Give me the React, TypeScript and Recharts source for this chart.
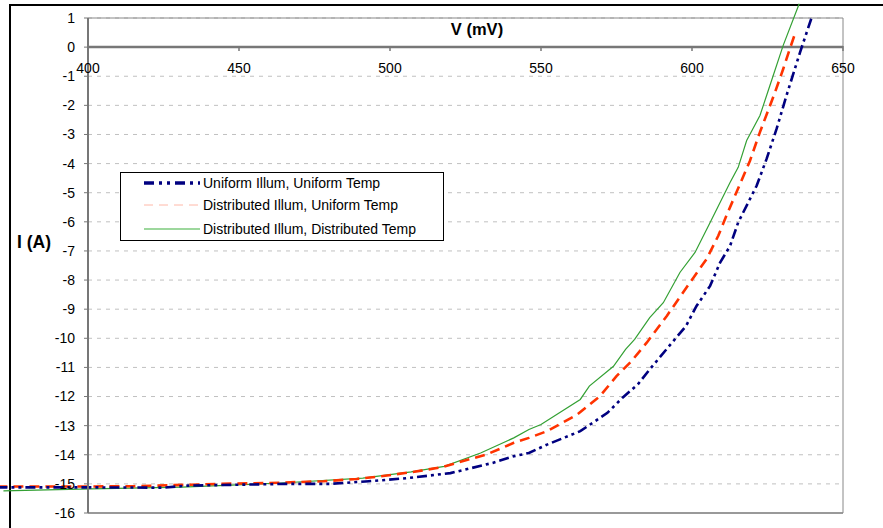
import { LineChart, Line, XAxis, YAxis, CartesianGrid, ReferenceLine, Legend } from "recharts";

// V (mV) / I (A), one pair of arrays per series
const uniformV = [370, 400, 425, 433, 466, 480, 493, 506, 520, 534, 541, 546, 552, 563, 572, 577, 582, 586, 592, 598, 601.5, 606, 609.3, 612.6, 615.3, 621.4, 624.7, 628, 631.3, 635.8, 639.6];
const uniformI = [-15.12, -15.12, -15.13, -15.06, -15.0, -15.0, -14.91, -14.8, -14.63, -14.28, -14.05, -13.94, -13.65, -13.19, -12.56, -12.04, -11.59, -11.07, -10.32, -9.58, -8.89, -8.2, -7.4, -6.83, -6.02, -4.76, -3.84, -2.81, -1.66, -0.17, 1.01];

const distIllumV = [370, 400, 415, 448, 460, 478, 489, 497, 507, 517, 522, 532, 541, 546, 552, 562, 569.5, 575, 580, 585, 591.6, 599.3, 604.8, 608.7, 611.4, 619.2, 622.5, 627.5, 630.2, 632.4, 634.3];
const distIllumI = [-15.09, -15.09, -15.08, -14.99, -14.97, -14.91, -14.83, -14.74, -14.6, -14.43, -14.28, -13.99, -13.59, -13.42, -13.19, -12.62, -11.99, -11.3, -10.78, -10.15, -9.24, -8.09, -7.28, -6.48, -5.79, -3.9, -2.92, -1.55, -0.75, -0.06, 0.52];

const distTempV = [372, 401, 431, 464, 491, 507, 518, 530, 541, 546, 550, 563, 566, 574, 578, 581, 586, 590.5, 596, 601, 606, 612.6, 615.3, 618.1, 622.5, 625.8, 630.2, 635.5];
const distTempI = [-15.24, -15.17, -15.11, -14.97, -14.8, -14.59, -14.4, -13.94, -13.42, -13.13, -12.96, -12.1, -11.64, -10.96, -10.38, -10.04, -9.29, -8.78, -7.74, -7.05, -6.02, -4.65, -4.13, -3.21, -2.35, -1.32, 0.06, 1.49];

const vTicks = [400, 450, 500, 550, 600, 650];
const iTicks = [-16, -15, -14, -13, -12, -11, -10, -9, -8, -7, -6, -5, -4, -3, -2, -1, 0, 1];

const toPoints = (v: number[], i: number[]) => v.map((x, k) => ({ v: x, i: i[k] }));

const W = 883;
const H = 528;
const MARGIN = { top: 17, right: 40, bottom: 15, left: 0 };
const X_AXIS_H = 1;
const Y_MIN = -16;
const Y_MAX = 1;
const plotTop = MARGIN.top + X_AXIS_H;
const plotH = H - plotTop - MARGIN.bottom;
const zeroY = plotTop + (plotH * Y_MAX) / (Y_MAX - Y_MIN);
const FONT = "'Liberation Sans', Arial, sans-serif";
const FS = 14;

const series = [
  {
    name: "Uniform Illum, Uniform Temp",
    data: toPoints(uniformV, uniformI),
    stroke: "#000080",
    width: 2.6,
    dash: "10 4 3 4 3 4",
    legendStroke: "#000080",
    legendWidth: 3.5,
    legendDash: "10 5 3 5 3 5",
  },
  {
    name: "Distributed Illum, Uniform Temp",
    data: toPoints(distIllumV, distIllumI),
    stroke: "#ff3300",
    width: 2.6,
    dash: "10 6",
    legendStroke: "#ffb8a8",
    legendWidth: 1,
    legendDash: "9 6",
  },
  {
    name: "Distributed Illum, Distributed Temp",
    data: toPoints(distTempV, distTempI),
    stroke: "#33a033",
    width: 1.2,
    dash: undefined,
    legendStroke: "#3cb03c",
    legendWidth: 1.2,
    legendDash: undefined,
  },
];

const VTick = ({ x, payload }: any) => (
  <g>
    <line x1={x} x2={x} y1={zeroY - 1} y2={zeroY + 4} stroke="#777" strokeWidth={1.5} />
    <text x={x} y={zeroY + 26} textAnchor="middle" fontSize={FS} fontFamily={FONT} fill="#000">
      {payload.value}
    </text>
  </g>
);

const rowTops = [0, 22, 46];

const LegendBox = () => (
  <div
    style={{
      width: 324,
      height: 69,
      border: "1px solid #000",
      background: "#fff",
      boxSizing: "border-box",
      position: "relative",
      fontFamily: FONT,
      fontSize: FS,
      color: "#000",
    }}
  >
    {series.map((s, k) => (
      <div key={s.name} style={{ position: "absolute", left: 23, top: rowTops[k], height: 20, display: "flex", alignItems: "center", whiteSpace: "nowrap" }}>
        <svg width={56} height={8} style={{ display: "block" }}>
          <line x1={0} x2={56} y1={4} y2={4} stroke={s.legendStroke} strokeWidth={s.legendWidth} strokeDasharray={s.legendDash} />
        </svg>
        <span style={{ marginLeft: 3 }}>{s.name}</span>
      </div>
    ))}
  </div>
);

const App = () => (
  <div style={{ position: "absolute", left: 0, top: 0, width: W, height: H, overflow: "hidden", background: "#fff", fontFamily: FONT }}>
    <style>{`.recharts-line, .recharts-line * { clip-path: none !important; }`}</style>
    <div style={{ position: "absolute", left: 9, top: 4, width: W, height: H, borderTop: "2px solid #000", borderLeft: "2px solid #000" }} />
    <LineChart width={W} height={H} margin={MARGIN}>
      <CartesianGrid vertical={false} stroke="#c0c0c0" strokeDasharray="4 5" />
      <XAxis
        dataKey="v"
        type="number"
        orientation="top"
        height={X_AXIS_H}
        domain={[400, 650]}
        ticks={vTicks}
        interval={0}
        allowDataOverflow
        axisLine={false}
        tickLine={false}
        tick={<VTick />}
      />
      <YAxis
        dataKey="i"
        type="number"
        width={88}
        domain={[Y_MIN, Y_MAX]}
        ticks={iTicks}
        interval={0}
        allowDataOverflow
        axisLine={{ stroke: "#777", strokeWidth: 2 }}
        tickLine={{ stroke: "#777" }}
        tickSize={4}
        tickMargin={9}
        tick={{ fill: "#000", fontSize: FS, fontFamily: FONT }}
      />
      <ReferenceLine y={1} stroke="#888" strokeWidth={1} />
      <ReferenceLine y={-16} stroke="#999" strokeWidth={2} />
      <ReferenceLine x={650} stroke="#888" strokeWidth={1} />
      <ReferenceLine y={0} stroke="#777" strokeWidth={2.5} />
      <Legend
        layout="vertical"
        align="center"
        verticalAlign="middle"
        content={<LegendBox />}
        wrapperStyle={{ position: "absolute", left: 120, top: 172, width: 324 }}
      />
      {[...series].reverse().map((s) => (
        <Line
          key={s.name}
          data={s.data}
          dataKey="i"
          name={s.name}
          type="linear"
          stroke={s.stroke}
          strokeWidth={s.width}
          strokeDasharray={s.dash}
          dot={false}
          activeDot={false}
          isAnimationActive={false}
        />
      ))}
    </LineChart>
    <div style={{ position: "absolute", left: 477, top: 21, transform: "translateX(-50%)", fontSize: 16.5, fontWeight: "bold", lineHeight: 1, whiteSpace: "nowrap" }}>
      V (mV)
    </div>
    <div style={{ position: "absolute", left: 17, top: 234, fontSize: 17.5, fontWeight: "bold", lineHeight: 1, whiteSpace: "nowrap" }}>
      I (A)
    </div>
  </div>
);

export default App;
